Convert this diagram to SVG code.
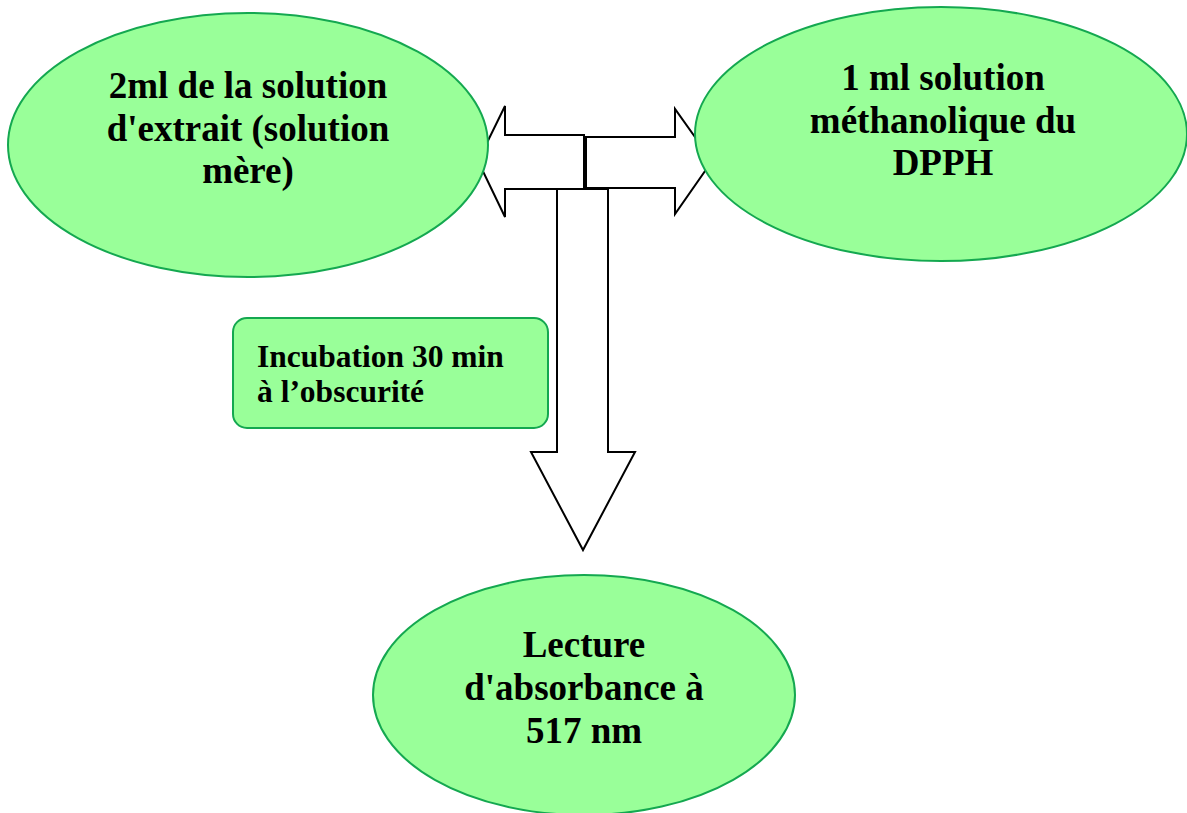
<svg xmlns="http://www.w3.org/2000/svg" width="1187" height="813" viewBox="0 0 1187 813">
<style>
.node{fill:#99ff99;stroke:#14a850;stroke-width:2}
.arr{fill:#ffffff;stroke:#000000;stroke-width:2;stroke-linejoin:miter}
.big{font-family:"Liberation Serif","Times New Roman",serif;font-weight:bold;font-size:37px;fill:#000;text-anchor:middle}
.small{font-family:"Liberation Serif","Times New Roman",serif;font-weight:bold;font-size:31.5px;fill:#000}
</style>
<rect width="1187" height="813" fill="#ffffff"/>
<g id="connectors">
<polygon class="arr" points="557,189 608,189 608,452 635,452 583,550 531,452 557,452"/>
<polygon class="arr" points="584,135 584,189 505,189 505,217 478,161 505,106 505,135"/>
<polygon class="arr" points="586,137 675,137 675,109 712,161 675,214 675,188 586,188"/>
</g>
<g id="node-extrait">
<ellipse class="node" cx="248" cy="145" rx="240" ry="132"/>
<text class="big" x="248" y="98">2ml de la solution</text>
<text class="big" x="248" y="141">d'extrait (solution</text>
<text class="big" x="248" y="183">mère)</text>
</g>
<g id="node-dpph">
<ellipse class="node" cx="941" cy="134" rx="246" ry="127"/>
<text class="big" x="943" y="90">1 ml solution</text>
<text class="big" x="943" y="133">méthanolique du</text>
<text class="big" x="943" y="175">DPPH</text>
</g>
<g id="node-incubation">
<rect class="node" x="233" y="318" width="315" height="110" rx="14" ry="14"/>
<text class="small" x="257" y="367">Incubation 30 min</text>
<text class="small" x="257" y="402">à l’obscurité</text>
</g>
<g id="node-lecture">
<ellipse class="node" cx="584" cy="695" rx="211" ry="120"/>
<text class="big" x="584" y="657">Lecture</text>
<text class="big" x="584" y="700">d'absorbance à</text>
<text class="big" x="584" y="743">517 nm</text>
</g>
</svg>
